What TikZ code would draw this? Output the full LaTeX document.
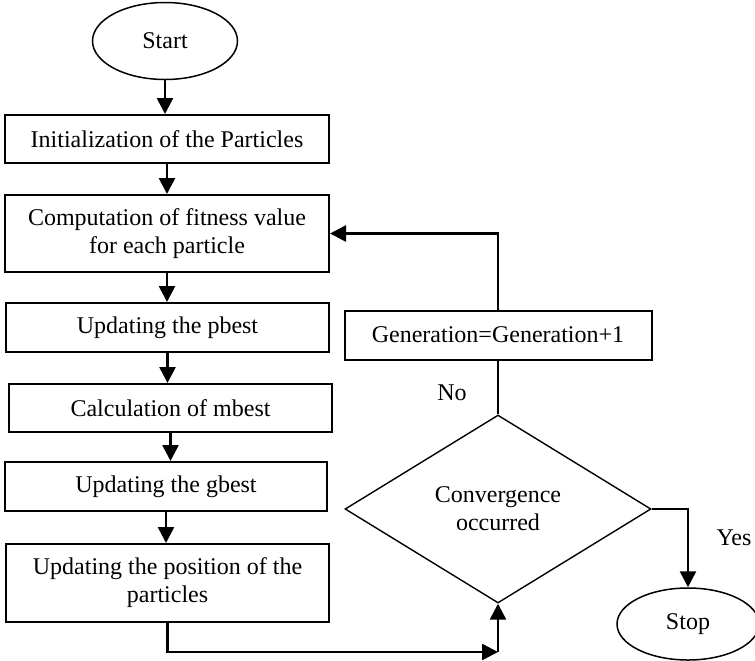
\documentclass[tikz,border=0pt]{standalone}
\usepackage{fontspec}
\setmainfont{Liberation Serif}
\usetikzlibrary{arrows.meta,shapes.geometric}

\begin{document}
\begin{tikzpicture}[x=0.5pt,y=-0.5pt,font=\fontsize{12}{14}\selectfont,
        procbox/.style={draw,line width=1pt,align=center,inner sep=0pt},
        terminal/.style={draw,ellipse,line width=0.75pt,inner sep=0pt},
        decision/.style={draw,diamond,line width=0.7pt,align=center,inner sep=0pt,
                         minimum width=153pt,minimum height=94pt},
        flow/.style={-{Triangle[length=8pt,width=8pt]},line width=1.3pt},
        tag/.style={inner sep=1pt}]
      \useasboundingbox (0,0) rectangle (755,660);
      \node[terminal,minimum width=72.5pt,minimum height=38.5pt] (start) at (165,41) {Start};
      \node[procbox,minimum width=162pt,minimum height=24pt] (init) at (167,139)
        {Initialization of the Particles};
      \node[procbox,minimum width=162pt,minimum height=38.5pt] (fit) at (167,233.5)
        {Computation of fitness value\\for each particle};
      \node[procbox,minimum width=161.5pt,minimum height=24.5pt] (pbest) at (167.5,327.5)
        {Updating the pbest};
      \node[procbox,minimum width=161.5pt,minimum height=24pt] (mbest) at (170.5,408)
        {Calculation of mbest};
      \node[procbox,minimum width=161pt,minimum height=24.5pt] (gbest) at (166,486.5)
        {Updating the gbest};
      \node[procbox,minimum width=161.5pt,minimum height=39pt] (pos) at (167.5,583)
        {Updating the position of the\\particles};
      \node[procbox,minimum width=153.5pt,minimum height=24.5pt] (gen) at (498,335)
        {Generation=Generation+1};
      \node[decision] (conv) at (498,509) {Convergence\\occurred};
      \node[terminal,minimum width=71pt,minimum height=36pt] (stop) at (688,624) {Stop};
      \node[tag] (no) at (452,393) {No};
      \node[tag] (yes) at (734,538) {Yes};
      \coordinate (join) at (498,652);
      % main column
      \draw[flow] (start.south) -- (start.south |- init.north);
      \draw[flow] (init.south) -- (init.south |- fit.north);
      \draw[flow] (fit.south) -- (fit.south |- pbest.north);
      \draw[flow] (pbest.south) -- (pbest.south |- mbest.north);
      \draw[flow] (mbest.south) -- (mbest.south |- gbest.north);
      \draw[flow] (gbest.south) -- (gbest.south |- pos.north);
      \draw[flow] (pos.south) |- (join);
      \draw[flow] (join) -- (conv.south);
      % loop back and exit
      \draw[line width=1.3pt] (conv.north) -- (gen.south);
      \draw[flow] (gen.north) |- (fit.east);
      \draw[flow] (conv.east) -| (stop.north);
    \end{tikzpicture}
\end{document}
